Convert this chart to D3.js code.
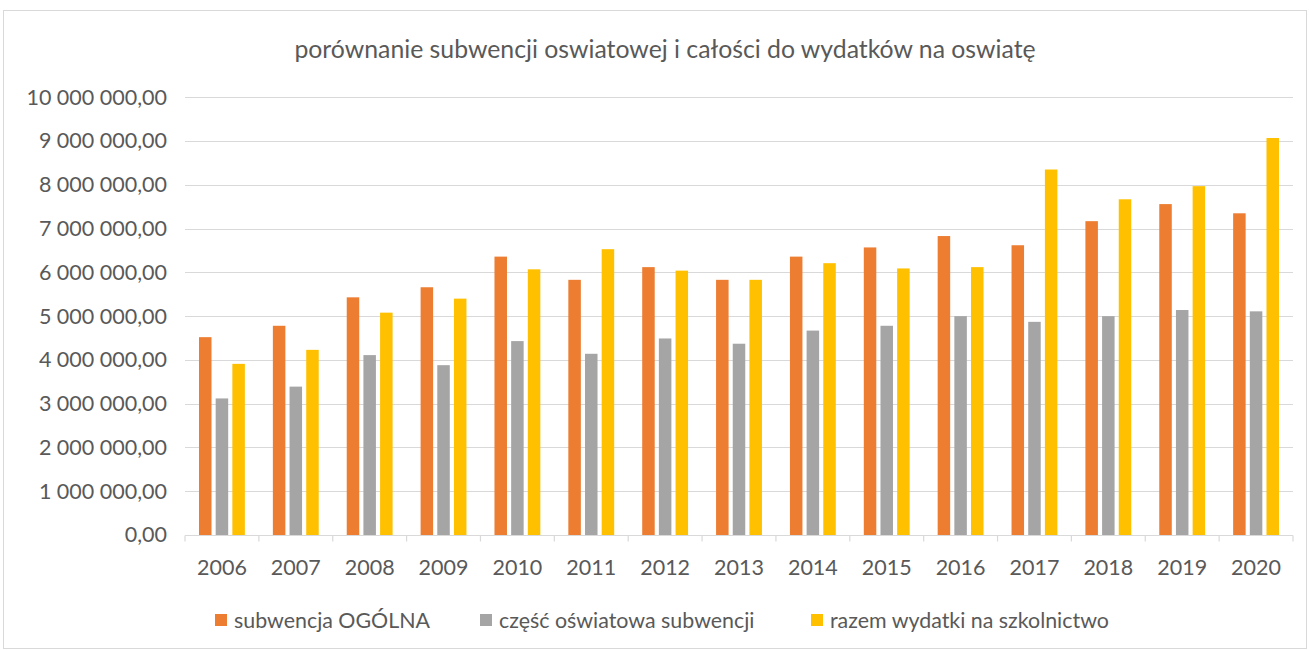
<!DOCTYPE html>
<html>
<head>
<meta charset="utf-8">
<script src="https://cdn.jsdelivr.net/npm/d3@7"></script>
<style>
  body { margin: 0; background: #fff; }
  text { font-family: Lato, "Liberation Sans", sans-serif; fill: #595959; }
</style>
</head>
<body>
<div id="svg"></div>
<script>
const years = ['2006','2007','2008','2009','2010','2011','2012','2013','2014','2015','2016','2017','2018','2019','2020'];
const seriesNames = ['subwencja OGÓLNA', 'część oświatowa subwencji', 'razem wydatki na szkolnictwo'];
const ogolna = [4520000, 4780000, 5430000, 5660000, 6360000, 5830000, 6120000, 5830000, 6360000, 6570000, 6830000, 6620000, 7170000, 7560000, 7350000];
const oswiatowa = [3120000, 3390000, 4110000, 3880000, 4430000, 4140000, 4490000, 4370000, 4670000, 4780000, 5000000, 4870000, 5000000, 5140000, 5110000];
const razem = [3910000, 4230000, 5080000, 5400000, 6070000, 6530000, 6040000, 5830000, 6210000, 6090000, 6120000, 8350000, 7670000, 7970000, 9070000];
const yTicks = [0, 1000000, 2000000, 3000000, 4000000, 5000000, 6000000, 7000000, 8000000, 9000000, 10000000];
const colors = ['#ED7D31', '#A5A5A5', '#FFC000'];

function makeGraph(){
  let w = 1309;
  let h = 650;
  let series = [ogolna, oswiatowa, razem];

  let svg = d3.select('#svg').append('svg').attr('width', w).attr('height', h);

  // chart frame
  svg.append('rect')
    .attr('x', 3.5).attr('y', 10.5)
    .attr('width', w - 6).attr('height', h - 12)
    .attr('fill', 'none').attr('stroke', '#d9d9d9');

  let pl = d3.formatLocale({decimal: ',', thousands: ' ', grouping: [3], currency: ['', '']});
  let fmt = pl.format(',.2f');

  let yScale = d3.scaleLinear().domain([0, 10000000]).range([535, 97.3]);
  let x0 = d3.scaleBand().domain(years).range([185, 1293]);
  let x1 = d3.scaleBand().domain([0, 1, 2]).range([0, x0.bandwidth()])
              .paddingInner(0.25).paddingOuter(0.84);

  // gridlines
  svg.append('g').selectAll('line')
    .data(yTicks.slice(1))
    .enter().append('line')
      .attr('x1', 185).attr('x2', 1293)
      .attr('y1', d => Math.round(yScale(d)) + 0.5)
      .attr('y2', d => Math.round(yScale(d)) + 0.5)
      .attr('stroke', '#d9d9d9').attr('stroke-width', 1.2);

  let yAxis = d3.axisLeft(yScale).tickValues(yTicks).tickFormat(fmt).tickSize(0).tickPadding(18);
  let yAxisGroup = svg.append('g').attr('transform', 'translate(185, 0)').call(yAxis);
  yAxisGroup.select('.domain').remove();
  yAxisGroup.selectAll('text')
    .style('font-size', '21.5px')
    .style('font-family', 'Lato, sans-serif')
    .attr('fill', '#595959');

  // bars
  svg.append('g').selectAll('g')
    .data(years)
    .enter().append('g')
      .attr('transform', d => `translate(${x0(d)}, 0)`)
    .selectAll('rect')
    .data((d, i) => series.map((s, k) => ({k: k, v: s[i]})))
    .enter().append('rect')
      .attr('x', d => x1(d.k))
      .attr('width', x1.bandwidth())
      .attr('y', d => yScale(d.v))
      .attr('height', d => yScale(0) - yScale(d.v))
      .attr('fill', d => colors[d.k]);

  // x axis with ticks between categories
  let base = Math.round(yScale(0)) + 0.5;
  svg.append('line')
    .attr('x1', 185).attr('x2', 1293).attr('y1', base).attr('y2', base)
    .attr('stroke', '#d9d9d9').attr('stroke-width', 1.2);
  svg.append('g').selectAll('line')
    .data(years.concat(['end']))
    .enter().append('line')
      .attr('x1', (d, i) => i < years.length ? x0(d) : 1293)
      .attr('x2', (d, i) => i < years.length ? x0(d) : 1293)
      .attr('y1', base).attr('y2', base + 6)
      .attr('stroke', '#d9d9d9').attr('stroke-width', 1.2);
  svg.append('g').selectAll('text')
    .data(years)
    .enter().append('text')
      .attr('x', d => x0(d) + x0.bandwidth() / 2)
      .attr('y', 575)
      .attr('text-anchor', 'middle')
      .style('font-size', '21.5px')
      .text(d => d);

  // title
  svg.append('text')
    .attr('x', 665).attr('y', 58)
    .attr('text-anchor', 'middle')
    .style('font-size', '24.8px')
    .text('porównanie subwencji oswiatowej i całości do wydatków na oswiatę');

  // legend
  let legX = [215, 480, 811];
  let leg = svg.append('g').selectAll('g')
    .data(seriesNames)
    .enter().append('g')
      .attr('transform', (d, i) => `translate(${legX[i]}, 620)`);
  leg.append('rect').attr('x', 0).attr('y', -6).attr('width', 12).attr('height', 12)
    .attr('fill', (d, i) => colors[i]);
  leg.append('text').attr('x', 19).attr('y', 7.5)
    .style('font-size', '21.4px')
    .text(d => d);
}

window.onload = function(){
  makeGraph();
}
</script>
</body>
</html>
